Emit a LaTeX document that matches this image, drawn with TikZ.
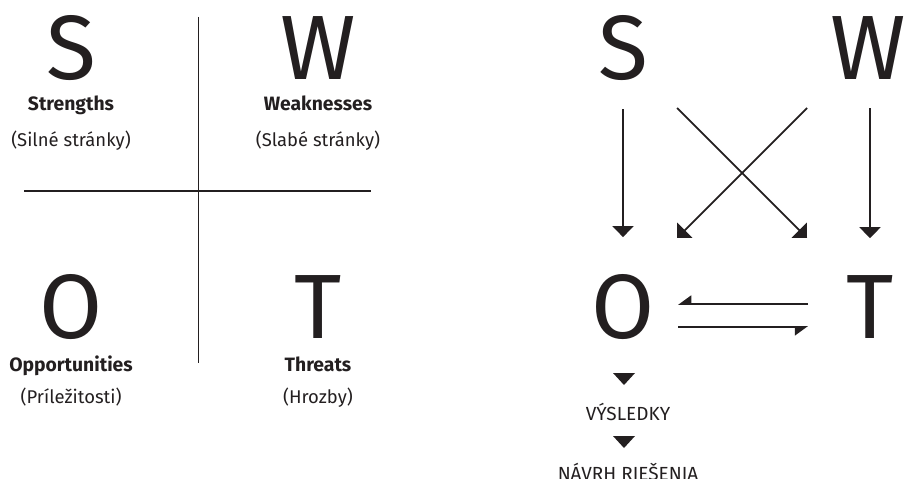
\documentclass[tikz,border=0pt]{standalone}
\usepackage{fontspec}
\setmainfont{Fira Sans}
\usepackage{tikz}
\usetikzlibrary{arrows.meta, positioning}
\definecolor{ink}{RGB}{35,31,32}

\begin{document}
\begin{tikzpicture}[
    x=0.02cm, y=-0.02cm,
    every node/.style={inner sep=0pt, text=ink},
    letter/.style={font=\fontsize{52}{52}\selectfont, anchor=base},
    title/.style={font=\fontsize{11}{13}\selectfont\bfseries, anchor=base},
    sub/.style={font=\fontsize{10.5}{13}\selectfont, anchor=base},
    caps/.style={font=\fontsize{10.8}{13}\selectfont, anchor=base},
    cross/.style={draw=ink, line width=1.1pt},
    arr/.style={draw=ink, line width=1pt, -{Triangle[width=0.42cm,length=0.22cm]}},
    harp/.style={draw=ink, line width=1pt, -{Triangle[right,width=0.34cm,length=0.24cm]}},
    tri/.style={fill=ink}
  ]
  \useasboundingbox (0,0) rectangle (905,479);

  %% Left: SWOT matrix
  \node[letter] (s1) at (71,80)    {S};
  \node[letter] (w1) at (318,80)   {W};
  \node[letter] (o1) at (71,338.5) {O};
  \node[letter] (t1) at (318,338.5){T};

  \node[title] (s1t) at (71,111)  {Strengths};
  \node[sub]   (s1s) at (71,147)  {(Silné stránky)};
  \node[title] (w1t) at (318,111) {Weaknesses};
  \node[sub]   (w1s) at (318,147) {(Slabé stránky)};
  \node[title] (o1t) at (71,371)  {Opportunities};
  \node[sub]   (o1s) at (71,403)  {(Príležitosti)};
  \node[title] (t1t) at (318,371) {Threats};
  \node[sub]   (t1s) at (318,403) {(Hrozby)};

  \coordinate (vtop) at (198.5,17);
  \coordinate (vbot) at (198.5,363);
  \coordinate (hl)   at (24,191);
  \coordinate (hr)   at (371,191);
  \draw[cross] (vtop) -- (vbot);
  \draw[cross] (hl) -- (hr);

  %% Right: relations
  \node[letter] (s2) at (623,80)    {S};
  \node[letter] (w2) at (868,80)    {W};
  \node[letter] (o2) at (623,338.5) {O};
  \node[letter] (t2) at (870,338.5) {T};

  \node[caps] (res) at (628,420) {VÝSLEDKY};
  \node[caps] (sol) at (628,480) {NÁVRH RIEŠENIA};

  \draw[arr, shorten <=0.56cm, shorten >=0.74cm] (s2.south) -- (o2.north);
  \draw[arr, shorten <=0.56cm, shorten >=0.74cm] (w2.south -| t2) -- (t2.north);

  \coordinate (xa) at (677,108);
  \coordinate (xb) at (807,238);
  \coordinate (xc) at (807,108);
  \coordinate (xd) at (677,238);
  \draw[arr] (xa) -- (xb);
  \draw[arr] (xc) -- (xd);

  \coordinate (ha) at (808,304);
  \coordinate (hb) at (678,304);
  \coordinate (hc) at (678,327);
  \coordinate (hd) at (808,327);
  \draw[harp] (ha) -- (hb);
  \draw[harp] (hc) -- (hd);

  %% Result markers
  \coordinate (m1) at (624,379);
  \coordinate (m2) at (624,442);
  \fill[tri] (m1) ++(-11,-6) -- ++(22,0) -- ++(-11,12) -- cycle;
  \fill[tri] (m2) ++(-11,-6) -- ++(22,0) -- ++(-11,12) -- cycle;

\end{tikzpicture}
\end{document}
